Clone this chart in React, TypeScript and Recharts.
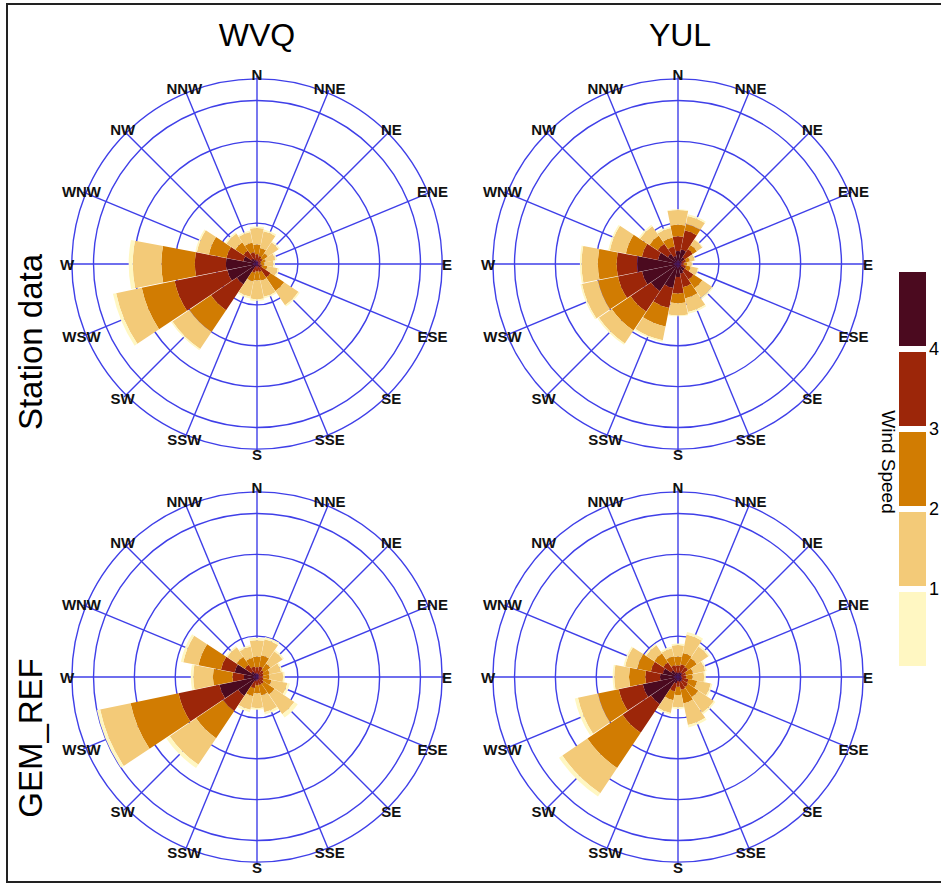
import React from 'react';
import {
  RadialBarChart,
  RadialBar,
  PolarGrid,
  PolarAngleAxis,
  PolarRadiusAxis
} from 'recharts';

const directions = ['N', 'NNE', 'NE', 'ENE', 'E', 'ESE', 'SE', 'SSE', 'S', 'SSW', 'SW', 'WSW', 'W', 'WNW', 'NW', 'NNW'];
const bearings = [0, 22.5, 45, 67.5, 90, 112.5, 135, 157.5, 180, 202.5, 225, 247.5, 270, 292.5, 315, 337.5];

// speed bins, inner (fastest) to outer (slowest)
const binKeys = ['b4', 'b3', 'b2', 'b1', 'b0'];
const binColors = ['#4b0a1f', '#9c2609', '#d17c02', '#f3ca78', '#fff7c2'];
const legendLabels = ['4', '3', '2', '1'];

const radiusTicks = [0, 5, 10, 15, 20, 22.65];

// WVQ, station data (% of time)
const wvqStation4 = [0.3, 0.3, 0.2, 0.1, 0.1, 0.1, 0.5, 0.3, 0.2, 0.3, 3.0, 3.7, 3.8, 1.7, 0.8, 0.5];
const wvqStation3 = [0.9, 0.7, 0.6, 0.4, 0.3, 0.5, 1.5, 0.7, 0.7, 0.8, 3.8, 6.6, 3.8, 2.1, 1.2, 1.0];
const wvqStation2 = [1.2, 1.0, 0.8, 0.6, 0.5, 0.7, 2.0, 1.1, 1.1, 1.1, 3.2, 4.1, 4.1, 2.2, 1.2, 1.2];
const wvqStation1 = [2.0, 2.1, 1.6, 1.2, 1.1, 1.3, 2.1, 2.0, 2.3, 1.9, 2.5, 3.2, 3.5, 1.5, 1.3, 1.3];
const wvqStation0 = [0.2, 0.2, 0.2, 0.2, 0.2, 0.2, 0.2, 0.2, 0.2, 0.2, 0.2, 0.4, 0.5, 0.2, 0.2, 0.2];

// YUL, station data
const yulStation4 = [1.6, 1.8, 1.0, 0.5, 0.3, 0.4, 1.0, 1.2, 1.6, 3.0, 4.0, 4.5, 5.0, 2.5, 1.5, 1.0];
const yulStation3 = [1.8, 2.4, 1.2, 0.5, 0.4, 0.6, 1.3, 1.7, 2.0, 2.5, 3.0, 3.0, 2.5, 2.0, 1.5, 1.2];
const yulStation2 = [1.4, 0.8, 0.6, 0.5, 0.4, 0.6, 1.3, 1.4, 1.2, 2.3, 2.8, 2.5, 2.3, 2.0, 1.2, 1.1];
const yulStation1 = [1.8, 1.0, 0.8, 0.6, 0.6, 0.9, 1.4, 1.7, 1.5, 1.7, 1.9, 2.0, 2.0, 2.0, 1.4, 1.2];
const yulStation0 = [0.1, 0.2, 0.1, 0.1, 0.1, 0.1, 0.2, 0.2, 0.1, 0.2, 0.2, 0.2, 0.2, 0.2, 0.2, 0.2];

// WVQ, GEM_REF
const wvqGem4 = [0.4, 0.4, 0.3, 0.2, 0.2, 0.2, 0.3, 0.3, 0.3, 0.5, 2.8, 4.7, 1.6, 2.8, 0.8, 0.5];
const wvqGem3 = [0.8, 0.9, 0.7, 0.6, 0.5, 0.6, 0.7, 0.7, 0.7, 0.9, 2.2, 5.1, 1.4, 1.7, 1.0, 0.8];
const wvqGem2 = [1.3, 1.4, 1.0, 0.8, 0.8, 1.0, 1.6, 1.3, 1.0, 1.0, 4.0, 6.0, 2.4, 2.8, 1.2, 1.1];
const wvqGem1 = [2.0, 2.0, 1.8, 1.4, 1.7, 2.0, 2.9, 2.1, 1.8, 1.7, 3.9, 3.8, 2.4, 1.9, 1.4, 1.4];
const wvqGem0 = [0.3, 0.3, 0.2, 0.2, 0.2, 0.3, 0.5, 0.3, 0.2, 0.3, 0.5, 0.4, 0.3, 0.3, 0.2, 0.2];

// YUL, GEM_REF
const yulGem4 = [0.5, 0.6, 0.6, 0.4, 0.4, 0.5, 0.6, 0.6, 0.5, 0.8, 4.0, 4.4, 2.2, 1.9, 1.0, 0.6];
const yulGem3 = [0.9, 1.0, 0.9, 0.6, 0.6, 0.8, 0.9, 1.0, 0.7, 1.0, 4.2, 3.0, 1.8, 1.5, 1.2, 0.9];
const yulGem2 = [1.1, 1.4, 1.3, 0.9, 0.8, 1.1, 1.5, 1.7, 1.0, 1.1, 5.2, 2.6, 2.0, 1.7, 1.3, 1.1];
const yulGem1 = [1.4, 2.3, 1.7, 1.5, 1.4, 1.7, 2.3, 2.7, 1.5, 1.6, 3.7, 2.5, 1.8, 1.5, 1.2, 1.0];
const yulGem0 = [0.2, 0.3, 0.2, 0.2, 0.2, 0.2, 0.2, 0.3, 0.2, 0.2, 0.5, 0.4, 0.2, 0.2, 0.2, 0.2];

const buildRows = (b4, b3, b2, b1, b0) =>
  bearings.map((angle, i) => ({ angle, b4: b4[i], b3: b3[i], b2: b2[i], b1: b1[i], b0: b0[i] }));

const panels = [
  { key: 'tl', left: 47, top: 54, rows: buildRows(wvqStation4, wvqStation3, wvqStation2, wvqStation1, wvqStation0) },
  { key: 'tr', left: 468, top: 54, rows: buildRows(yulStation4, yulStation3, yulStation2, yulStation1, yulStation0) },
  { key: 'bl', left: 47, top: 467, rows: buildRows(wvqGem4, wvqGem3, wvqGem2, wvqGem1, wvqGem0) },
  { key: 'br', left: 468, top: 467, rows: buildRows(yulGem4, yulGem3, yulGem2, yulGem1, yulGem0) }
];

const FONT = '"Liberation Sans", Arial, Helvetica, sans-serif';
const GRID = '#3f3fe8';

const dirName = (v) => directions[bearings.indexOf(Number(v))] ?? '';

const DirTick = (props) => (
  <text
    x={props.x}
    y={props.y}
    textAnchor="middle"
    dominantBaseline="central"
    fontSize={15}
    fontWeight="bold"
    fontFamily={FONT}
    fill="#111"
  >
    {dirName(props.payload.value)}
  </text>
);

const Rose = ({ rows, left, top }) => (
  <div style={{ position: 'absolute', left, top }}>
    <RadialBarChart
      width={420}
      height={420}
      cx={210}
      cy={210}
      layout="centric"
      data={rows}
      innerRadius={0}
      outerRadius={188}
      startAngle={90}
      endAngle={-270}
      barCategoryGap="2%"
      margin={{ top: 0, right: 0, bottom: 0, left: 0 }}
    >
      <PolarGrid gridType="circle" stroke={GRID} strokeWidth={1.4} />
      <PolarAngleAxis
        type="number"
        dataKey="angle"
        domain={[0, 360]}
        ticks={bearings}
        tick={DirTick}
        tickLine={false}
        axisLine={false}
        tickSize={2}
      />
      <PolarRadiusAxis type="number" domain={[0, 22.65]} ticks={radiusTicks} tick={false} axisLine={false} />
      {binKeys.map((k, i) => (
        <RadialBar key={k} dataKey={k} stackId="w" fill={binColors[i]} isAnimationActive={false} />
      ))}
    </RadialBarChart>
  </div>
);

export default function App() {
  const boxTop = 272;
  const boxH = 74;
  const boxStep = 80;
  return (
    <div style={{ position: 'absolute', left: 0, top: 0, width: 941, height: 885, overflow: 'hidden', background: '#fff' }}>
      <svg width={941} height={885} style={{ position: 'absolute', left: 0, top: 0 }}>
        <rect x={7} y={4} width={980} height={878} fill="none" stroke="#222" strokeWidth={2} />
        <text x={257} y={46} textAnchor="middle" fontSize={32} fontFamily={FONT} fill="#000">WVQ</text>
        <text x={680} y={46} textAnchor="middle" fontSize={32} fontFamily={FONT} fill="#000">YUL</text>
        <text transform="translate(42,342) rotate(-90)" textAnchor="middle" fontSize={33} fontFamily={FONT} fill="#000">Station data</text>
        <text transform="translate(42,738) rotate(-90)" textAnchor="middle" fontSize={33} fontFamily={FONT} fill="#000">GEM_REF</text>
        {binColors.map((c, i) => (
          <rect key={c} x={899} y={boxTop + i * boxStep} width={27} height={boxH} fill={c} />
        ))}
        {legendLabels.map((l, i) => (
          <text key={l} x={929} y={boxTop + boxH + 3 + i * boxStep} dominantBaseline="central" fontSize={18} fontFamily={FONT} fill="#000">{l}</text>
        ))}
        <text transform="translate(882,462) rotate(90)" textAnchor="middle" fontSize={19} fontFamily={FONT} fill="#000">Wind Speed</text>
      </svg>
      {panels.map((p) => (
        <Rose key={p.key} rows={p.rows} left={p.left} top={p.top} />
      ))}
    </div>
  );
}
